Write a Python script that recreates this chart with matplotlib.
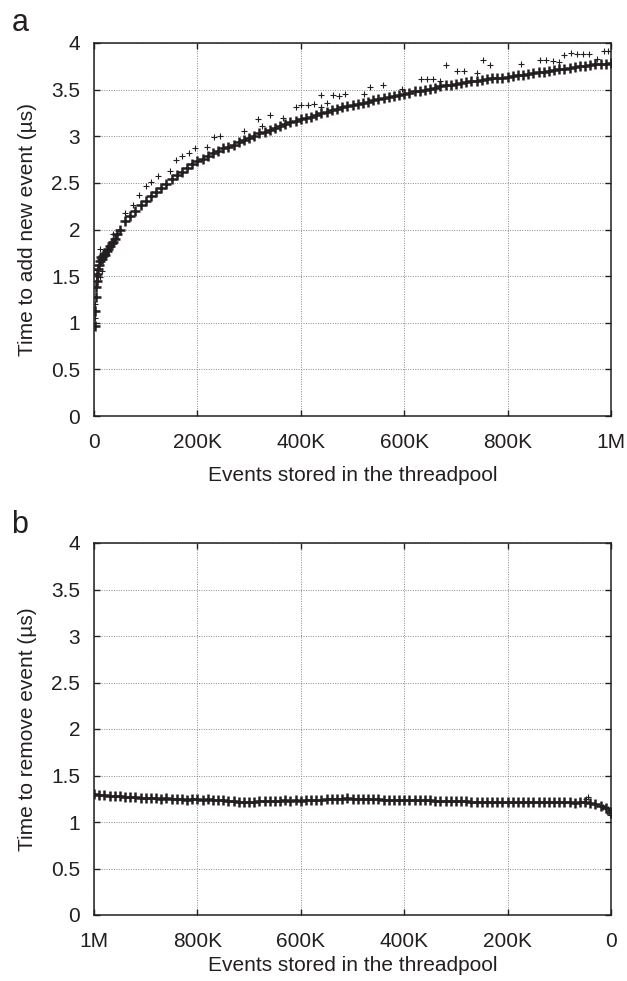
import matplotlib
matplotlib.use("Agg")
import matplotlib.pyplot as plt

plt.rcParams['font.family'] = ['Liberation Sans', 'DejaVu Sans']

ink = "#231f20"

# (a) time to add a new event; x in thousands of stored events, y in microseconds
add_k = [1, 2, 3, 4, 5, 6, 8, 10, 12, 14, 16, 18, 20, 22, 25, 28, 31, 34, 37, 40, 45, 50] \
    + list(range(60, 1001, 10))
add_us = [0.97, 1.13, 1.28, 1.38, 1.45, 1.52, 1.58, 1.62, 1.66, 1.70, 1.68, 1.72, 1.74, 1.73,
          1.77, 1.79, 1.82, 1.85, 1.87, 1.90, 1.95, 2.00,
          2.09, 2.15, 2.20, 2.26, 2.31, 2.36, 2.40, 2.45, 2.49, 2.54,
          2.58, 2.62, 2.66, 2.70, 2.73, 2.76, 2.79, 2.82, 2.84, 2.87,
          2.89, 2.91, 2.94, 2.96, 2.98, 3.00, 3.03, 3.05, 3.07, 3.09,
          3.11, 3.13, 3.15, 3.16, 3.18, 3.20, 3.21, 3.23, 3.25, 3.26,
          3.28, 3.29, 3.31, 3.32, 3.34, 3.35, 3.36, 3.37, 3.39, 3.40,
          3.41, 3.42, 3.43, 3.44, 3.45, 3.46, 3.48, 3.49, 3.50, 3.51,
          3.52, 3.54, 3.55, 3.55, 3.56, 3.57, 3.58, 3.59, 3.59, 3.60,
          3.61, 3.62, 3.63, 3.63, 3.64, 3.65, 3.66, 3.66, 3.67, 3.68,
          3.69, 3.69, 3.70, 3.71, 3.72, 3.72, 3.73, 3.74, 3.75, 3.75,
          3.76, 3.77, 3.77, 3.78, 3.79]

# scattered slow samples above the main band
add_out_k = [1, 2, 3, 5, 8, 12, 15, 12, 37, 60, 75, 87, 100, 110, 123, 147, 159, 171, 183, 195,
             219, 232, 243, 291, 317, 325, 340, 365, 390, 400, 413, 426, 439, 439, 451, 462,
             474, 486, 523, 534, 559, 595, 632, 644, 656, 669, 680, 703, 716, 740, 753, 765,
             826, 863, 875, 887, 899, 910, 922, 934, 946, 958, 973, 986, 995]
add_out_us = [1.05, 1.20, 1.50, 1.57, 1.50, 1.79, 1.55, 1.49, 1.95, 2.18, 2.26, 2.37, 2.47,
              2.51, 2.57, 2.63, 2.75, 2.79, 2.82, 2.87, 2.88, 2.99, 3.00, 3.06, 3.18, 3.11,
              3.23, 3.20, 3.31, 3.33, 3.34, 3.35, 3.31, 3.44, 3.36, 3.44, 3.43, 3.45, 3.45,
              3.53, 3.55, 3.51, 3.61, 3.61, 3.61, 3.59, 3.76, 3.70, 3.70, 3.68, 3.82, 3.76,
              3.77, 3.82, 3.82, 3.81, 3.80, 3.87, 3.89, 3.88, 3.88, 3.88, 3.83, 3.91, 3.91]

# (b) time to remove an event, from 1M stored events down to 0
remove_k = list(range(1000, -1, -10))
remove_us = [1.30, 1.29, 1.29, 1.28, 1.28, 1.28, 1.27, 1.27, 1.27, 1.26,
             1.26, 1.26, 1.26, 1.25, 1.26, 1.25, 1.25, 1.25, 1.24, 1.25,
             1.25, 1.24, 1.25, 1.24, 1.24, 1.24, 1.23, 1.23, 1.22, 1.22,
             1.22, 1.22, 1.23, 1.23, 1.23, 1.23, 1.23, 1.24, 1.23, 1.24,
             1.23, 1.24, 1.24, 1.24, 1.24, 1.25, 1.25, 1.25, 1.25, 1.26,
             1.25, 1.25, 1.25, 1.25, 1.25, 1.25, 1.24, 1.24, 1.24, 1.24,
             1.24, 1.24, 1.24, 1.24, 1.24, 1.24, 1.23, 1.23, 1.23, 1.23,
             1.23, 1.23, 1.23, 1.22, 1.22, 1.22, 1.22, 1.22, 1.22, 1.21,
             1.21, 1.22, 1.21, 1.21, 1.21, 1.21, 1.21, 1.21, 1.21, 1.21,
             1.21, 1.21, 1.21, 1.20, 1.21, 1.22, 1.20, 1.19, 1.17, 1.15,
             1.10]
remove_out_k = [48, 45, 15, 6, 4, 2]
remove_out_us = [1.25, 1.27, 1.16, 1.14, 1.12, 1.07]

x_ticks = [0, 200, 400, 600, 800, 1000]
x_labels = ["0", "200K", "400K", "600K", "800K", "1M"]
y_ticks = [0, 0.5, 1, 1.5, 2, 2.5, 3, 3.5, 4]
y_labels = ["0", "0.5", "1", "1.5", "2", "2.5", "3", "3.5", "4"]

fig = plt.figure(figsize=(6.27, 9.81), dpi=100)
ax_a = fig.add_axes([94 / 627, 1 - 416 / 981, 517 / 627, 373 / 981])
ax_b = fig.add_axes([94 / 627, 1 - 915 / 981, 517 / 627, 372 / 981])


def style(ax, ylabel, xpad):
    ax.set_ylim(0, 4)
    ax.set_xticks(x_ticks)
    ax.set_xticklabels(x_labels)
    ax.set_yticks(y_ticks)
    ax.set_yticklabels(y_labels)
    ax.grid(True, color="#8a8a8a", linestyle=(0, (1, 1.5)), linewidth=0.7)
    ax.set_axisbelow(True)
    ax.tick_params(direction="in", length=4, width=1, top=True, right=True,
                   colors=ink, labelsize=15)
    ax.tick_params(axis="x", pad=12)
    ax.tick_params(axis="y", pad=10)
    for s in ax.spines.values():
        s.set_linewidth(1.1)
        s.set_color(ink)
    ax.set_xlabel("Events stored in the threadpool", fontsize=15, color=ink, labelpad=xpad)
    ax.set_ylabel(ylabel, fontsize=15, color=ink, labelpad=10)


# main bands: heavy overlapping crosses make the dense ribbon
ax_a.plot(add_k, add_us, "+", color=ink, markersize=7.5, mew=1.8)
ax_a.plot(add_out_k, add_out_us, "+", color=ink, markersize=5, mew=0.8)
ax_a.set_xlim(0, 1000)
style(ax_a, "Time to add new event (µs)", 10)

ax_b.plot(remove_k, remove_us, "+", color=ink, markersize=7.5, mew=1.8)
ax_b.plot(remove_out_k, remove_out_us, "+", color=ink, markersize=5, mew=0.8)
ax_b.set_xlim(1000, 0)
style(ax_b, "Time to remove event (µs)", 4)

fig.text(20 / 627, 1 - 31 / 981, "a", fontsize=22, ha="center", va="baseline", color=ink)
fig.text(20 / 627, 1 - 533 / 981, "b", fontsize=22, ha="center", va="baseline", color=ink)

fig.savefig("out.png", dpi=100)
